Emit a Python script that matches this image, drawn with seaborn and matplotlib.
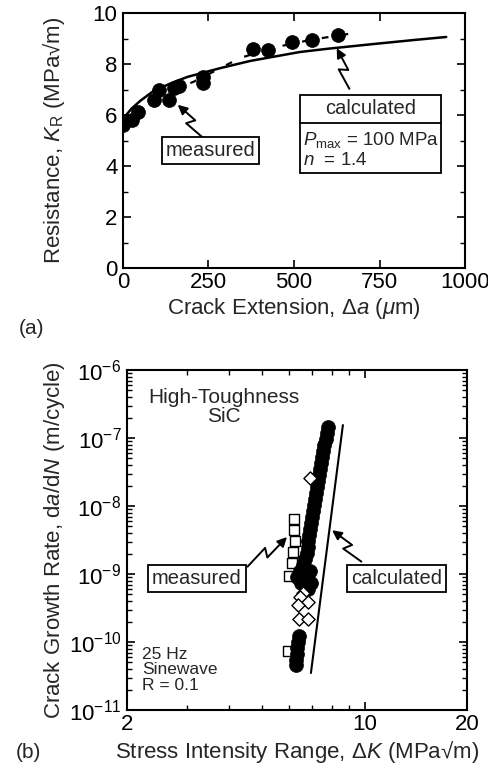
import matplotlib.pyplot as plt
import numpy as np
import pandas as pd
import seaborn as sns
from matplotlib.patches import Rectangle
from matplotlib.ticker import MultipleLocator, FixedLocator, NullFormatter

# ---- panel (a): R-curve ----
meas_da = [0, 5, 25, 45, 90, 105, 135, 148, 165, 233, 233, 380, 425, 494, 552, 628]
meas_kr = [5.6, 5.75, 5.8, 6.1, 6.6, 7.0, 6.6, 7.05, 7.15, 7.5, 7.25, 8.6, 8.55, 8.85, 8.95, 9.15]

fit_da = [0, 50, 100, 150, 206, 250, 343, 450, 550, 669]
fit_kr = [5.6, 6.15, 6.65, 7.0, 7.3, 7.6, 8.24, 8.67, 8.95, 9.2]

calc_da = [0, 25, 50, 90, 150, 190, 285, 372, 517, 600, 730, 850, 945]
calc_kr = [5.85, 6.25, 6.55, 6.95, 7.3, 7.5, 7.84, 8.12, 8.47, 8.6, 8.78, 8.94, 9.06]

# ---- panel (b): fatigue crack growth ----
circ_dk = [7.80, 7.75, 7.70, 7.59, 7.54, 7.49, 7.44, 7.39, 7.34, 7.29, 7.24, 7.19, 7.14, 7.10,
           7.05, 7.00, 6.95, 6.91, 6.86, 6.81, 6.81, 6.77, 6.68, 6.59, 6.45, 6.91, 6.32, 6.77,
           6.50, 6.95, 6.81, 6.41, 6.37, 6.32, 6.32, 6.28, 6.28]
circ_dadn = [1.45e-7, 1.19e-7, 9.7e-8, 7.9e-8, 6.4e-8, 5.3e-8, 4.3e-8, 3.5e-8, 2.9e-8, 2.3e-8,
             1.9e-8, 1.55e-8, 1.27e-8, 1.03e-8, 8.4e-9, 6.9e-9, 5.6e-9, 4.6e-9, 3.75e-9, 3.06e-9,
             2.5e-9, 2.04e-9, 1.66e-9, 1.36e-9, 1.11e-9, 1.11e-9, 9.0e-10, 9.0e-10, 7.4e-10,
             7.4e-10, 6.0e-10, 1.22e-10, 1.0e-10, 8.2e-11, 6.7e-11, 5.4e-11, 4.6e-11]

sq_dk = [6.20, 6.20, 6.24, 6.15, 6.11, 5.99, 5.95]
sq_dadn = [6.4e-9, 4.4e-9, 3.06e-9, 2.1e-9, 1.45e-9, 9.3e-10, 7.4e-11]

dia_dk = [6.91, 6.59, 6.45, 6.81, 6.37, 6.41, 6.81]
dia_dadn = [2.6e-8, 5.3e-10, 4.6e-10, 3.9e-10, 3.5e-10, 2.2e-10, 2.2e-10]

calcb_dk = [6.95, 8.63]
calcb_dadn = [3.5e-11, 1.55e-7]

sns.set_theme(style="ticks")
plt.rcParams.update({
    "font.family": ["Liberation Sans", "DejaVu Sans"],
    "mathtext.fontset": "custom",
    "mathtext.rm": "Liberation Sans",
    "mathtext.it": "Liberation Sans:italic",
    "font.size": 15,
    "axes.linewidth": 1.5,
    "axes.edgecolor": "black",
    "xtick.direction": "in",
    "ytick.direction": "in",
    "xtick.top": True,
    "ytick.right": True,
    "xtick.color": "black",
    "ytick.color": "black",
    "xtick.labelsize": 16,
    "ytick.labelsize": 16,
    "xtick.major.size": 6,
    "ytick.major.size": 6,
    "xtick.minor.size": 3.5,
    "ytick.minor.size": 3.5,
    "xtick.major.width": 1.2,
    "ytick.major.width": 1.2,
    "xtick.minor.width": 1.0,
    "ytick.minor.width": 1.0,
    "xtick.major.pad": 3,
    "ytick.major.pad": 4,
})


def zigzag(ax, p0, p1, amp=4.5):
    # lightning-style arrow, built in pixel space then mapped back to data
    a = ax.transData.transform(p0)
    b = ax.transData.transform(p1)
    d = b - a
    n = np.array([-d[1], d[0]]) / np.hypot(*d)
    m1 = a + 0.52 * d + amp * n
    m2 = a + 0.44 * d - amp * n
    inv = ax.transData.inverted()
    pts = inv.transform(np.array([a, m1, m2]))
    ax.plot(pts[:, 0], pts[:, 1], color="black", lw=1.4, solid_capstyle="butt")
    ax.annotate("", xy=p1, xytext=tuple(pts[2]),
                arrowprops=dict(arrowstyle="-|>", color="black", lw=1.4,
                                mutation_scale=14, shrinkA=0, shrinkB=0))


fig = plt.figure(figsize=(4.89, 7.75), dpi=100)
ax1 = fig.add_axes([123 / 489, 1 - 268 / 775, 342 / 489, 255 / 775])
ax2 = fig.add_axes([127 / 489, 1 - 710 / 775, 340 / 489, 340 / 775])

# ---------------- (a) ----------------
sns.lineplot(x=calc_da, y=calc_kr, ax=ax1, color="black", lw=1.8, sort=False)
sns.lineplot(x=fit_da, y=fit_kr, ax=ax1, color="black", lw=1.6, sort=False,
             linestyle=(0, (3, 6)))
sns.scatterplot(x=meas_da, y=meas_kr, ax=ax1, color="black", s=100, edgecolor="black",
                linewidth=0.5, zorder=3)
ax1.set_xlim(0, 1000)
ax1.set_ylim(0, 10)
ax1.xaxis.set_major_locator(MultipleLocator(250))
ax1.yaxis.set_major_locator(MultipleLocator(2))
ax1.yaxis.set_minor_locator(MultipleLocator(1))
ax1.set_xlabel(r"Crack Extension, $\Delta a$ ($\mu$m)", fontsize=16)
ax1.set_ylabel(r"Resistance, $K_{\mathrm{R}}$ (MPa√m)", fontsize=16)
ax1.xaxis.set_label_coords(0.5, -0.11)
ax1.yaxis.set_label_coords(-0.165, 0.5)

ax1.text(256, 4.6, "measured", ha="center", va="center", fontsize=14.5,
         bbox=dict(boxstyle="square,pad=0.2", fc="white", ec="black", lw=1.3))
ax1.add_patch(Rectangle((517, 3.73), 413, 3.05, fill=True, fc="white", ec="black",
                        lw=1.3, zorder=4))
ax1.plot([517, 930], [5.69, 5.69], color="black", lw=1.3, zorder=5)
ax1.text(723, 6.24, "calculated", ha="center", va="center", fontsize=14.5, zorder=6)
ax1.text(525, 5.0, r"$P_{\mathrm{max}}$ = 100 MPa", ha="left", va="center",
         fontsize=13.5, zorder=6)
ax1.text(525, 4.2, r"$n$  = 1.4", ha="left", va="center", fontsize=13.5, zorder=6)
fig.text(32 / 489, 1 - 328 / 775, "(a)", ha="center", va="center", fontsize=15)

# ---------------- (b) ----------------
ax2.set_xscale("log")
ax2.set_yscale("log")
ax2.set_xlim(2, 20)
ax2.set_ylim(1e-11, 1e-6)
sns.lineplot(x=calcb_dk, y=calcb_dadn, ax=ax2, color="black", lw=1.5, sort=False)
sns.scatterplot(x=sq_dk, y=sq_dadn, ax=ax2, marker="s", s=60, facecolor="white",
                edgecolor="black", linewidth=1.0, zorder=2)
sns.scatterplot(x=circ_dk, y=circ_dadn, ax=ax2, marker="o", s=100, color="black",
                edgecolor="black", linewidth=0.5, zorder=3)
sns.scatterplot(x=dia_dk, y=dia_dadn, ax=ax2, marker="D", s=45, facecolor="white",
                edgecolor="black", linewidth=1.0, zorder=4)

ax2.xaxis.set_major_locator(FixedLocator([2, 10, 20]))
ax2.set_xticklabels(["2", "10", "20"])
ax2.xaxis.set_minor_locator(FixedLocator([3, 4, 5, 6, 7, 8, 9]))
ax2.xaxis.set_minor_formatter(NullFormatter())
decades = np.arange(-11, -5)
ax2.yaxis.set_major_locator(FixedLocator(10.0 ** decades))
ax2.yaxis.set_minor_locator(FixedLocator(
    [k * 10.0 ** e for e in decades[:-1] for k in range(2, 10)]))
ax2.yaxis.set_minor_formatter(NullFormatter())
ax2.set_xlabel(r"Stress Intensity Range, $\Delta K$ (MPa√m)", fontsize=16)
ax2.set_ylabel(r"Crack Growth Rate, d$a$/d$N$ (m/cycle)", fontsize=16)
ax2.xaxis.set_label_coords(0.5, -0.085)
ax2.yaxis.set_label_coords(-0.176, 0.5)

ax2.text(3.86, 2.86e-7, "High-Toughness\nSiC", ha="center", va="center", fontsize=15,
         linespacing=1.0)
ax2.text(2.21, 3.9e-11, "25 Hz\nSinewave\nR = 0.1", ha="left", va="center",
         fontsize=12.5, linespacing=1.05)
ax2.text(3.21, 8.7e-10, "measured", ha="center", va="center", fontsize=14.5,
         bbox=dict(boxstyle="square,pad=0.2", fc="white", ec="black", lw=1.3))
ax2.text(12.4, 8.5e-10, "calculated", ha="center", va="center", fontsize=14.5,
         bbox=dict(boxstyle="square,pad=0.2", fc="white", ec="black", lw=1.3))
fig.text(28 / 489, 1 - 752 / 775, "(b)", ha="center", va="center", fontsize=15)

zigzag(ax1, (233, 5.12), (160, 6.4))
zigzag(ax1, (663, 7.0), (625, 8.62))
zigzag(ax2, (4.51, 1.26e-9), (5.91, 3.5e-9))
zigzag(ax2, (9.82, 1.5e-9), (8.02, 4.4e-9))

for ax in (ax1, ax2):
    for sp in ax.spines.values():
        sp.set_color("black")

fig.savefig("out.png", dpi=100)
plt.close(fig)
